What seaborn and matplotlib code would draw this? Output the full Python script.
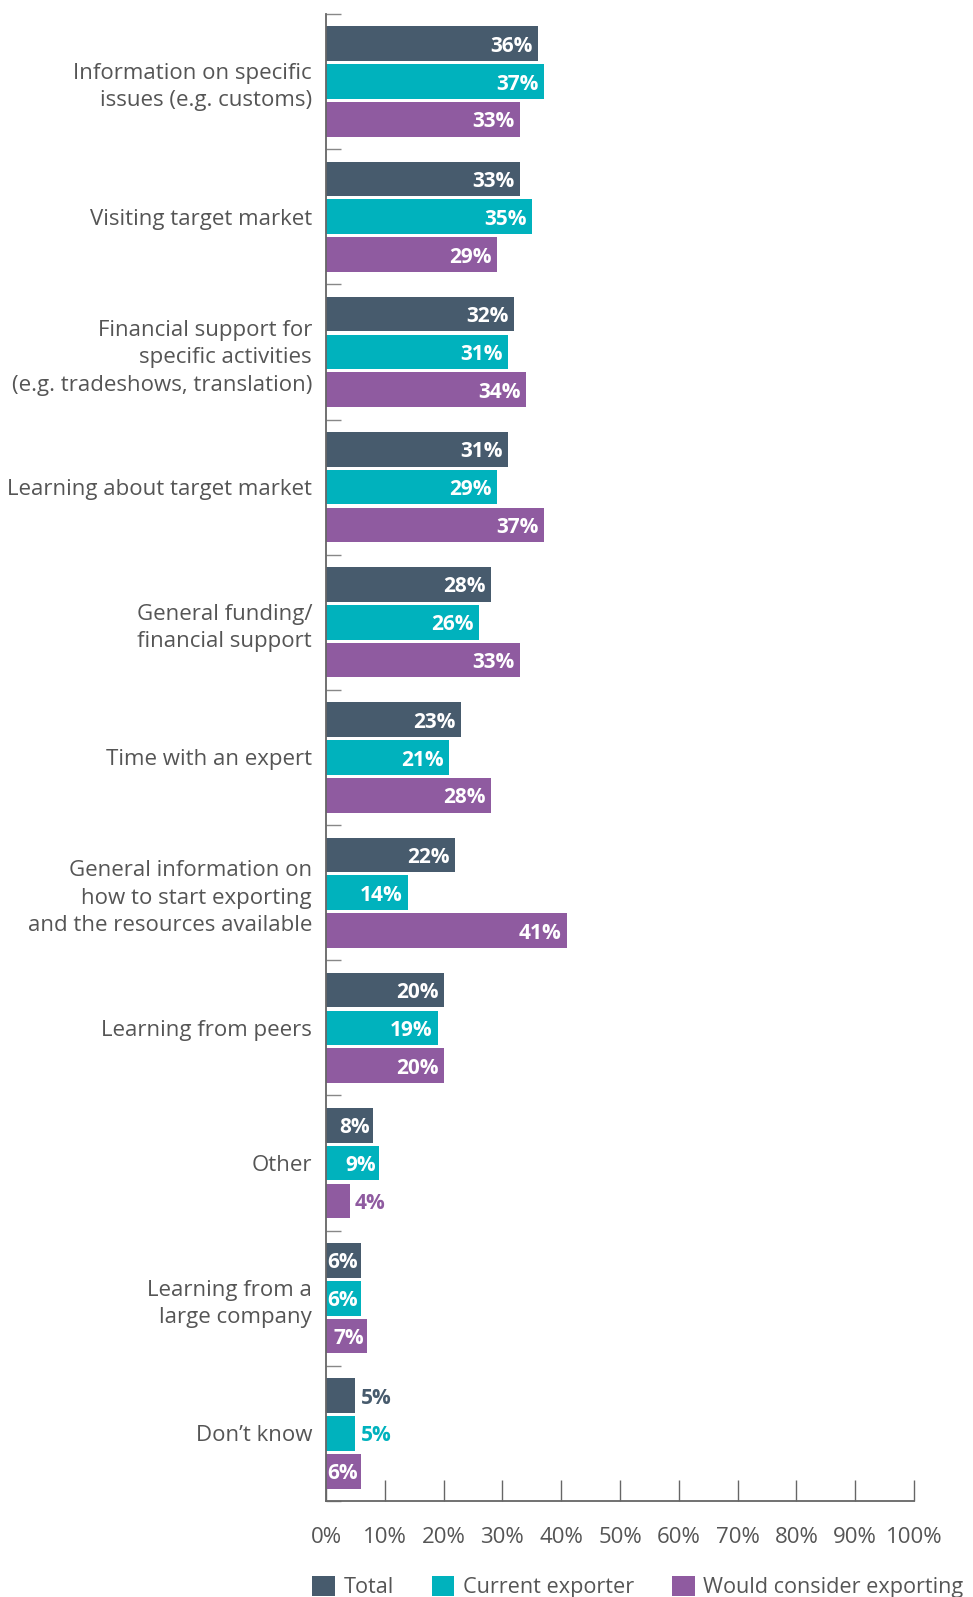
import numpy as np
import pandas as pd
import matplotlib
matplotlib.use("Agg")
import matplotlib.pyplot as plt
from matplotlib.patches import Patch
import seaborn as sns

# Support types and the share of respondents choosing each, by group
categories = [
    "Information on specific\nissues (e.g. customs)",
    "Visiting target market",
    "Financial support for\nspecific activities\n(e.g. tradeshows, translation)",
    "Learning about target market",
    "General funding/\nfinancial support",
    "Time with an expert",
    "General information on\nhow to start exporting\nand the resources available",
    "Learning from peers",
    "Other",
    "Learning from a\nlarge company",
    "Don\u2019t know",
]
series = ["Total", "Current exporter", "Would consider exporting"]
total = [36, 33, 32, 31, 28, 23, 22, 20, 8, 6, 5]
current_exporter = [37, 35, 31, 29, 26, 21, 14, 19, 9, 6, 5]
would_consider = [33, 29, 34, 37, 33, 28, 41, 20, 4, 7, 6]
x_ticks = [0, 10, 20, 30, 40, 50, 60, 70, 80, 90, 100]
x_tick_labels = [f"{t}%" for t in x_ticks]

colors = ["#475b6d", "#00b2bd", "#8f5ba0"]
text_grey = "#555555"
axis_grey = "#666666"

values_by_series = [total, current_exporter, would_consider]
df = pd.DataFrame({
    "category": np.repeat([categories], 3, axis=0).ravel(),
    "series": np.repeat(series, len(categories)),
    "value": np.concatenate(values_by_series),
})

sns.set_theme(style="white")
plt.rcParams["font.family"] = ["Open Sans", "DejaVu Sans"]

fig = plt.figure(figsize=(9.73, 15.97), dpi=100)
ax = fig.add_axes([326 / 973, 1 - 1501 / 1597, (914 - 326) / 973, (1501 - 14) / 1597])

sns.barplot(
    data=df, y="category", x="value", hue="series", orient="h",
    order=categories, hue_order=series, palette=colors, saturation=1,
    width=0.84, gap=0.085, linewidth=0, ax=ax, legend=False, errorbar=None,
)

ax.set_xlim(0, 100)
ax.set_ylim(len(categories) - 0.5, -0.5)
ax.set_xlabel("")
ax.set_ylabel("")

# value labels: inside in white, outside in the bar colour for short bars
for container, vals, col in zip(ax.containers, values_by_series, colors):
    for rect, v in zip(container, vals):
        yc = rect.get_y() + rect.get_height() / 2
        w = rect.get_width()
        if v >= 6:
            pad = 0.9 if v >= 10 else 0.5
            ax.text(w - pad, yc, f"{v}%", ha="right", va="center_baseline",
                    color="white", fontsize=15, fontweight="bold")
        else:
            ax.text(w + 0.9, yc, f"{v}%", ha="left", va="center_baseline",
                    color=col, fontsize=15, fontweight="bold")

# axes styling
for side in ["top", "right"]:
    ax.spines[side].set_visible(False)
for side in ["left", "bottom"]:
    ax.spines[side].set_color(axis_grey)
    ax.spines[side].set_linewidth(1.3)

ax.set_xticks(x_ticks)
ax.set_xticklabels(x_tick_labels)
ax.tick_params(axis="x", bottom=True, direction="in", length=15, width=1.0,
               color=axis_grey, pad=19, labelsize=16, labelcolor=text_grey)

ax.set_yticks(range(len(categories)))
ax.set_yticklabels(categories)
ax.tick_params(axis="y", which="major", left=True, length=0, pad=10,
               labelsize=16, labelcolor=text_grey)
for lbl in ax.get_yticklabels():
    lbl.set_linespacing(1.4)
    lbl.set_horizontalalignment("right")
    lbl.set_multialignment("right")
ax.set_yticks(np.arange(-0.5, len(categories), 1.0), minor=True)
ax.tick_params(axis="y", which="minor", left=True, direction="in", length=11,
               width=1.0, color="#888888")

handles = [Patch(facecolor=c, edgecolor="none") for c in colors]
fig.legend(handles, series, loc="upper left", bbox_to_anchor=(312 / 973, 1 - 1576 / 1597),
           ncol=3, frameon=False, fontsize=15.6, labelcolor=text_grey,
           handlelength=1.05, handleheight=1.05, handletextpad=0.4,
           columnspacing=1.75, borderaxespad=0, borderpad=0)

fig.savefig("out.png", dpi=100, facecolor="white")
